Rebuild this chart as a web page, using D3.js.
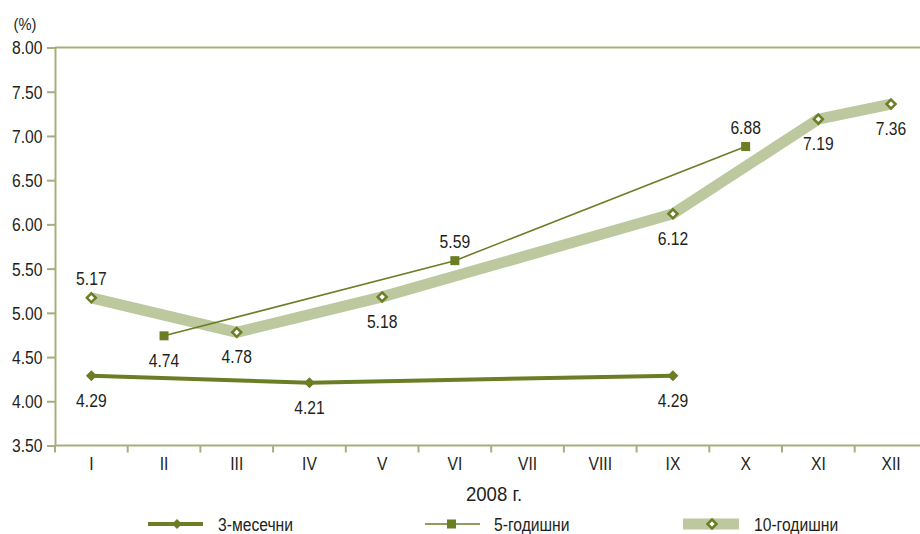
<!DOCTYPE html>
<html>
<head>
<meta charset="utf-8">
<script src="https://cdn.jsdelivr.net/npm/d3@7/dist/d3.min.js"></script>
<style>
  html, body { margin: 0; padding: 0; background: #fff; }
  svg { display: block; }
  text { font-family: "Liberation Sans", Arial, sans-serif; fill: #231f20; }
</style>
</head>
<body>
<svg id="chart" width="920" height="534"></svg>
<script>
const months = ["I","II","III","IV","V","VI","VII","VIII","IX","X","XI","XII"];
const yTicks = [3.5, 4.0, 4.5, 5.0, 5.5, 6.0, 6.5, 7.0, 7.5, 8.0];
const series3m = [{m:"I", v:4.29}, {m:"IV", v:4.21}, {m:"IX", v:4.29}];
const series5y = [{m:"II", v:4.74}, {m:"VI", v:5.59}, {m:"X", v:6.88}];
const series10y = [{m:"I", v:5.17}, {m:"III", v:4.78}, {m:"V", v:5.18}, {m:"IX", v:6.12}, {m:"XI", v:7.19}, {m:"XII", v:7.36}];
const labelPos5y = ["below", "above", "above"];
const labelPos10y = ["above", "below", "below", "below", "below", "below"];
const seriesNames = ["3-месечни", "5-годишни", "10-годишни"];
const xTitle = "2008 г.";
const yUnit = "(%)";

const dark = "#6b7d25";
const light = "#bdc89f";
const axisCol = "#a9ad7d";
const SX = 0.87;   // horizontal condensing of text
const FS = 18;

const svg = d3.select("#chart");
const left = 55, bandW = 72.7;
const x = d3.scaleBand().domain(months).range([left, left + bandW * months.length]).padding(0);
const y = d3.scaleLinear().domain([3.5, 8]).range([445.5, 47.5]);
const cx = m => x(m) + x.bandwidth() / 2;

function txt(parent, tx, ty, str, anchor, size, sx) {
  return parent.append("text")
    .attr("transform", `translate(${tx},${ty}) scale(${sx || SX},1)`)
    .attr("text-anchor", anchor || "start")
    .attr("font-size", size || FS)
    .text(str);
}

// top border line
svg.append("line").attr("x1", left).attr("x2", 920).attr("y1", y(8)).attr("y2", y(8))
  .attr("stroke", axisCol).attr("stroke-width", 2);

// y axis
const yAxis = svg.append("g").attr("transform", `translate(${left},0)`)
  .call(d3.axisLeft(y).tickValues(yTicks).tickFormat(d3.format(".2f")).tickSize(8).tickSizeOuter(0));
yAxis.select(".domain").attr("stroke", axisCol).attr("stroke-width", 2);
yAxis.selectAll(".tick line").attr("stroke", axisCol).attr("stroke-width", 2);
yAxis.selectAll(".tick text").attr("x", -12.5 / SX).attr("dy", "0.36em").attr("transform", `scale(${SX},1)`)
  .attr("font-size", FS).attr("fill", "#231f20")
  .style("font-family", '"Liberation Sans", Arial, sans-serif');

// x axis
const xAxisG = svg.append("g").attr("transform", `translate(0,${y(3.5)})`);
xAxisG.append("line").attr("x1", left).attr("x2", 920).attr("stroke", axisCol).attr("stroke-width", 2);
xAxisG.selectAll("line.tk").data(months).enter().append("line").attr("class", "tk")
  .attr("x1", d => x(d)).attr("x2", d => x(d)).attr("y1", 0).attr("y2", 7)
  .attr("stroke", axisCol).attr("stroke-width", 2);
months.forEach(m => txt(xAxisG, cx(m), 24, m, "middle"));

// axis titles
txt(svg, 494, 501, xTitle, "middle", 20, 0.93);
txt(svg, 25, 30, yUnit, "middle", 16, 0.92);

const line = d3.line().x(d => cx(d.m)).y(d => y(d.v));
const diamond = s => `M0,${-s}L${s},0L0,${s}L${-s},0Z`;

// 10-year
svg.append("path").datum(series10y).attr("d", line).attr("fill", "none")
  .attr("stroke", light).attr("stroke-width", 11).attr("stroke-linejoin", "miter");
svg.selectAll("path.m10").data(series10y).enter().append("path").attr("class", "m10")
  .attr("transform", d => `translate(${cx(d.m)},${y(d.v)})`).attr("d", diamond(4.5))
  .attr("fill", "#fff").attr("stroke", dark).attr("stroke-width", 2.5);

// 5-year
svg.append("path").datum(series5y).attr("d", line).attr("fill", "none")
  .attr("stroke", dark).attr("stroke-width", 1.6);
svg.selectAll("rect.m5").data(series5y).enter().append("rect").attr("class", "m5")
  .attr("x", d => cx(d.m) - 4.5).attr("y", d => y(d.v) - 4.5).attr("width", 9).attr("height", 9).attr("fill", dark);

// 3-month
svg.append("path").datum(series3m).attr("d", line).attr("fill", "none")
  .attr("stroke", dark).attr("stroke-width", 4);
svg.selectAll("path.m3").data(series3m).enter().append("path").attr("class", "m3")
  .attr("transform", d => `translate(${cx(d.m)},${y(d.v)})`).attr("d", diamond(5.5)).attr("fill", dark);

// labels
const fmt = d3.format(".2f");
const addLabels = (data, pos) => {
  data.forEach((d, i) => {
    const ty = pos[i] === "above" ? y(d.v) - 13 : y(d.v) + 31;
    txt(svg, cx(d.m), ty, fmt(d.v), "middle");
  });
};
addLabels(series3m, series3m.map(() => "below"));
addLabels(series5y, labelPos5y);
addLabels(series10y, labelPos10y);

// legend
const ly = 524;
const lg = svg.append("g");
// 3m
lg.append("line").attr("x1", 148).attr("x2", 203).attr("y1", ly).attr("y2", ly).attr("stroke", dark).attr("stroke-width", 4);
lg.append("path").attr("transform", `translate(177,${ly})`).attr("d", diamond(5)).attr("fill", dark);
txt(lg, 218, ly + 6.5, seriesNames[0], "start");
// 5y
lg.append("line").attr("x1", 425).attr("x2", 480).attr("y1", ly).attr("y2", ly).attr("stroke", dark).attr("stroke-width", 1.6);
lg.append("rect").attr("x", 447).attr("y", ly - 4.5).attr("width", 9).attr("height", 9).attr("fill", dark);
txt(lg, 494, ly + 6.5, seriesNames[1], "start");
// 10y
lg.append("line").attr("x1", 683).attr("x2", 739).attr("y1", ly).attr("y2", ly).attr("stroke", light).attr("stroke-width", 11);
lg.append("path").attr("transform", `translate(712,${ly})`).attr("d", diamond(4.5)).attr("fill", "#fff").attr("stroke", dark).attr("stroke-width", 2.5);
txt(lg, 754, ly + 6.5, seriesNames[2], "start");
</script>
</body>
</html>
